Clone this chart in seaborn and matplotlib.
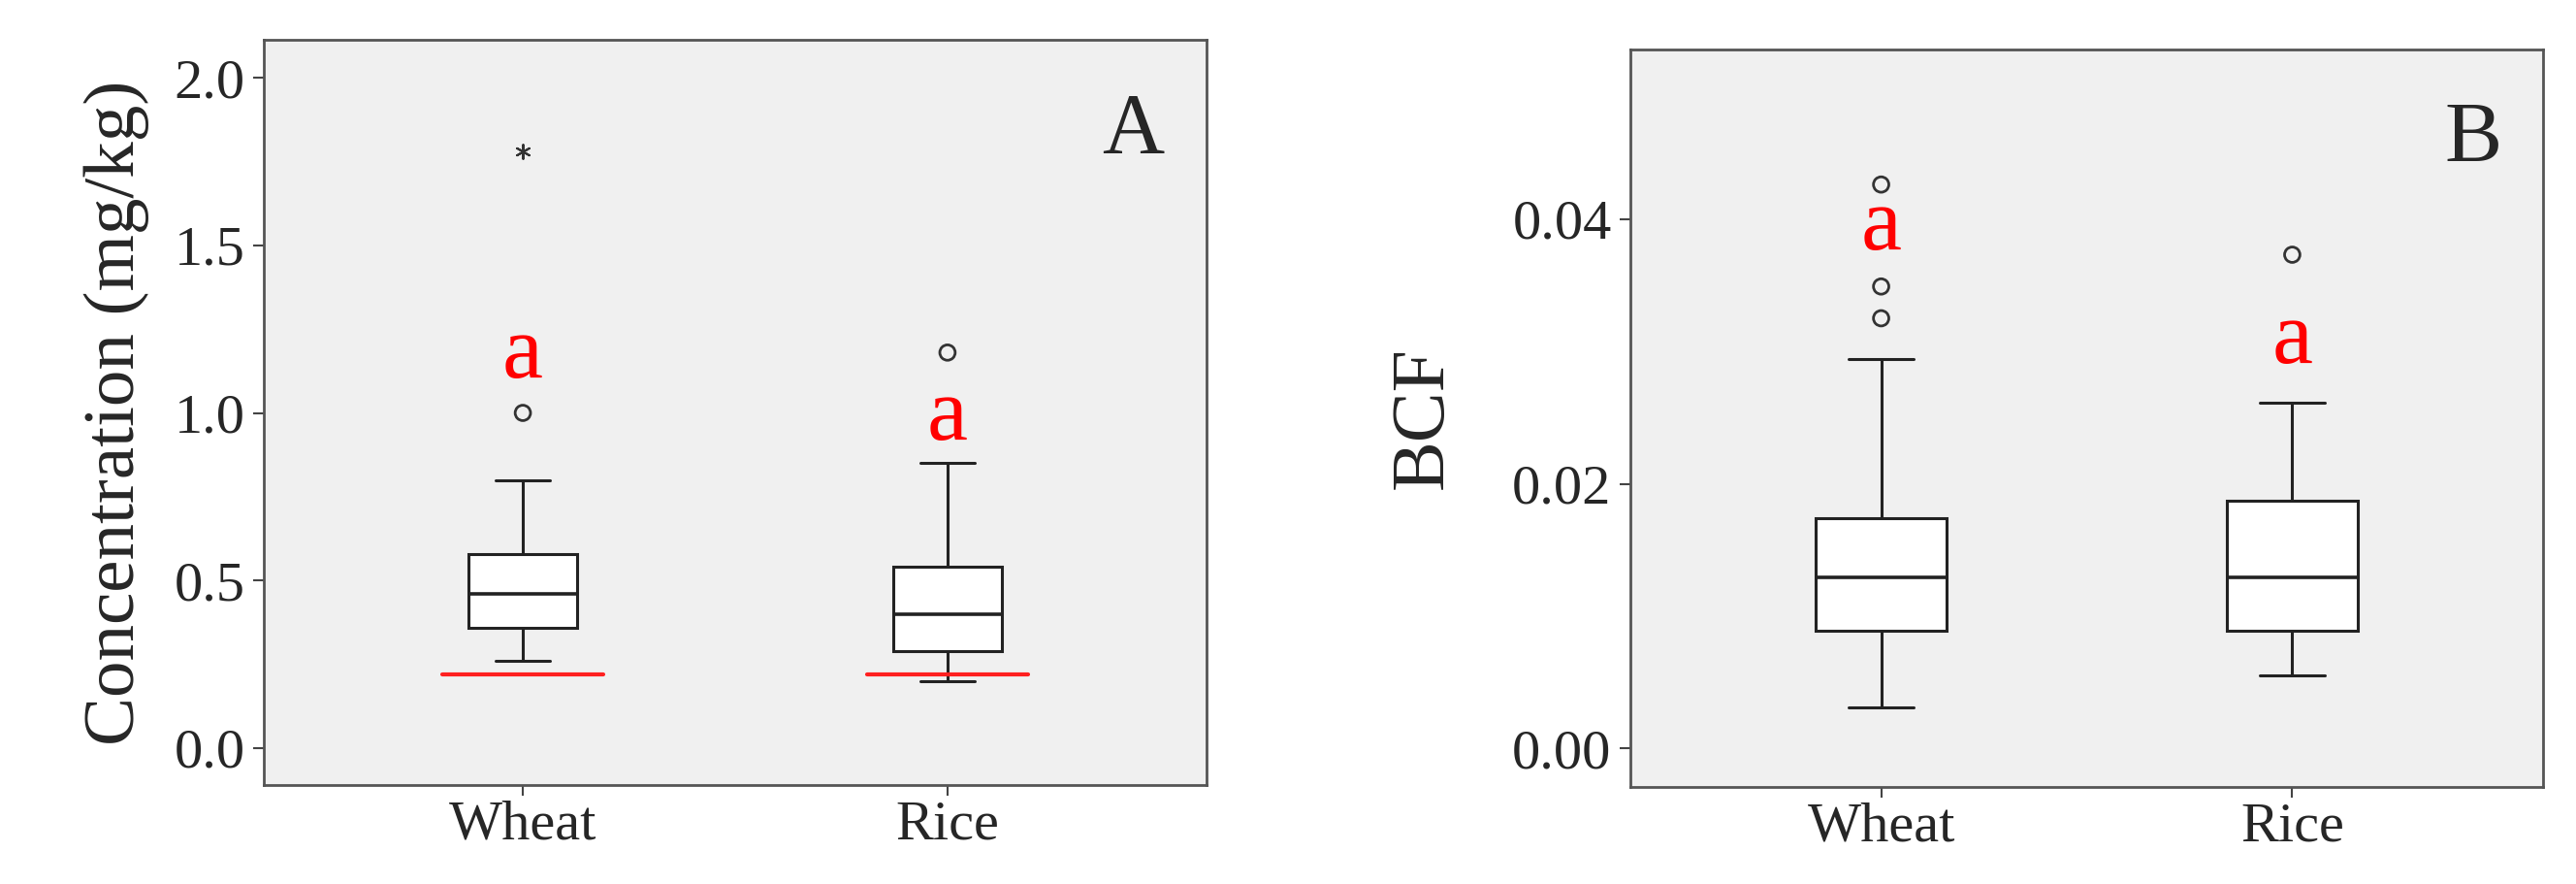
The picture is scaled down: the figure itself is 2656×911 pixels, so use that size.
import numpy as np
import pandas as pd
import matplotlib
matplotlib.use("Agg")
import matplotlib.pyplot as plt
import seaborn as sns

crops = ["Wheat", "Rice"]

# Panel A: concentration (mg/kg) - box values (low, Q1, median, Q3, high) with fillers
conc_wheat = [0.26, 0.31, 0.36, 0.41, 0.46, 0.52, 0.58, 0.69, 0.80]
conc_rice = [0.20, 0.245, 0.29, 0.345, 0.40, 0.47, 0.54, 0.70, 0.85]
conc_out_circle = {"Wheat": [1.00], "Rice": [1.18]}
conc_out_star = {"Wheat": [1.78], "Rice": []}
conc_limit = 0.22
conc_letter_y = {"Wheat": 1.107, "Rice": 0.92}

# Panel B: BCF
bcf_wheat = [0.0031, 0.0060, 0.0089, 0.0109, 0.0129, 0.0152, 0.0174, 0.0234, 0.0294]
bcf_rice = [0.0055, 0.0072, 0.0089, 0.0109, 0.0129, 0.0158, 0.0187, 0.0224, 0.0261]
bcf_out_circle = {"Wheat": [0.0325, 0.0349, 0.0426], "Rice": [0.0373]}
bcf_letter_y = {"Wheat": 0.0377, "Rice": 0.0291}

sns.set_theme(style="white")
plt.rcParams["font.family"] = ["Liberation Serif", "DejaVu Serif"]

fig = plt.figure(figsize=(26.56, 9.11), dpi=100)
axA = fig.add_axes([272/2656, 1-809/911, (1244-272)/2656, (809-41)/911])
axB = fig.add_axes([1681/2656, 1-811/911, (2622-1681)/2656, (811-51)/911])


def draw(ax, vals, width, circles, stars, letters, ylim, ticks, ticklabels, ylabel, tag, ylabsize):
    df = pd.DataFrame({"crop": np.repeat(crops, [len(v) for v in vals]),
                       "value": np.concatenate(vals)})
    ax.set_facecolor("#f0f0f0")
    sns.boxplot(data=df, x="crop", y="value", order=crops, ax=ax, width=width,
                whis=(0, 100), showfliers=False, color="white", linecolor="#222222",
                linewidth=2.2, medianprops={"linewidth": 2.6})
    for i, c in enumerate(crops):
        if circles[c]:
            ax.scatter([i] * len(circles[c]), circles[c], s=130, facecolors="none",
                       edgecolors="#333333", linewidths=2, zorder=5)
        if stars[c]:
            ax.scatter([i] * len(stars[c]), stars[c], s=110, marker=(6, 2, 0),
                       color="#333333", linewidths=1.5, zorder=5)
        ax.text(i, letters[c], "a", color="red", fontsize=68, ha="center", va="baseline")
    ax.set_xlim(-0.61, 1.61)
    ax.set_ylim(*ylim)
    ax.set_yticks(ticks)
    ax.set_yticklabels(ticklabels)
    ax.set_xlabel("")
    ax.set_ylabel(ylabel, fontsize=ylabsize, labelpad=18)
    ax.tick_params(axis="both", labelsize=42, length=8, width=1.5, color="#444444",
                   direction="out", left=True, bottom=True)
    ax.tick_params(axis="y", pad=6)
    for s in ax.spines.values():
        s.set_color("#555555")
        s.set_linewidth(2)
    ax.text(0.955, 0.93, tag, transform=ax.transAxes, fontsize=64, ha="right", va="top")


draw(axA, [conc_wheat, conc_rice], 0.255, conc_out_circle, conc_out_star, conc_letter_y,
     (-0.11, 2.113), [0, 0.5, 1.0, 1.5, 2.0], ["0.0", "0.5", "1.0", "1.5", "2.0"],
     "Concentration (mg/kg)", "A", 54)
for i in range(2):
    axA.plot([i - 0.19, i + 0.19], [conc_limit, conc_limit], color="#ff2020", lw=3, zorder=6)

draw(axB, [bcf_wheat, bcf_rice], 0.32, bcf_out_circle, {"Wheat": [], "Rice": []}, bcf_letter_y,
     (-0.0029, 0.0528), [0, 0.02, 0.04], ["0.00", "0.02", "0.04"], "BCF", "B", 56)
axB.yaxis.labelpad = 40

fig.savefig("out.png", dpi=100)
